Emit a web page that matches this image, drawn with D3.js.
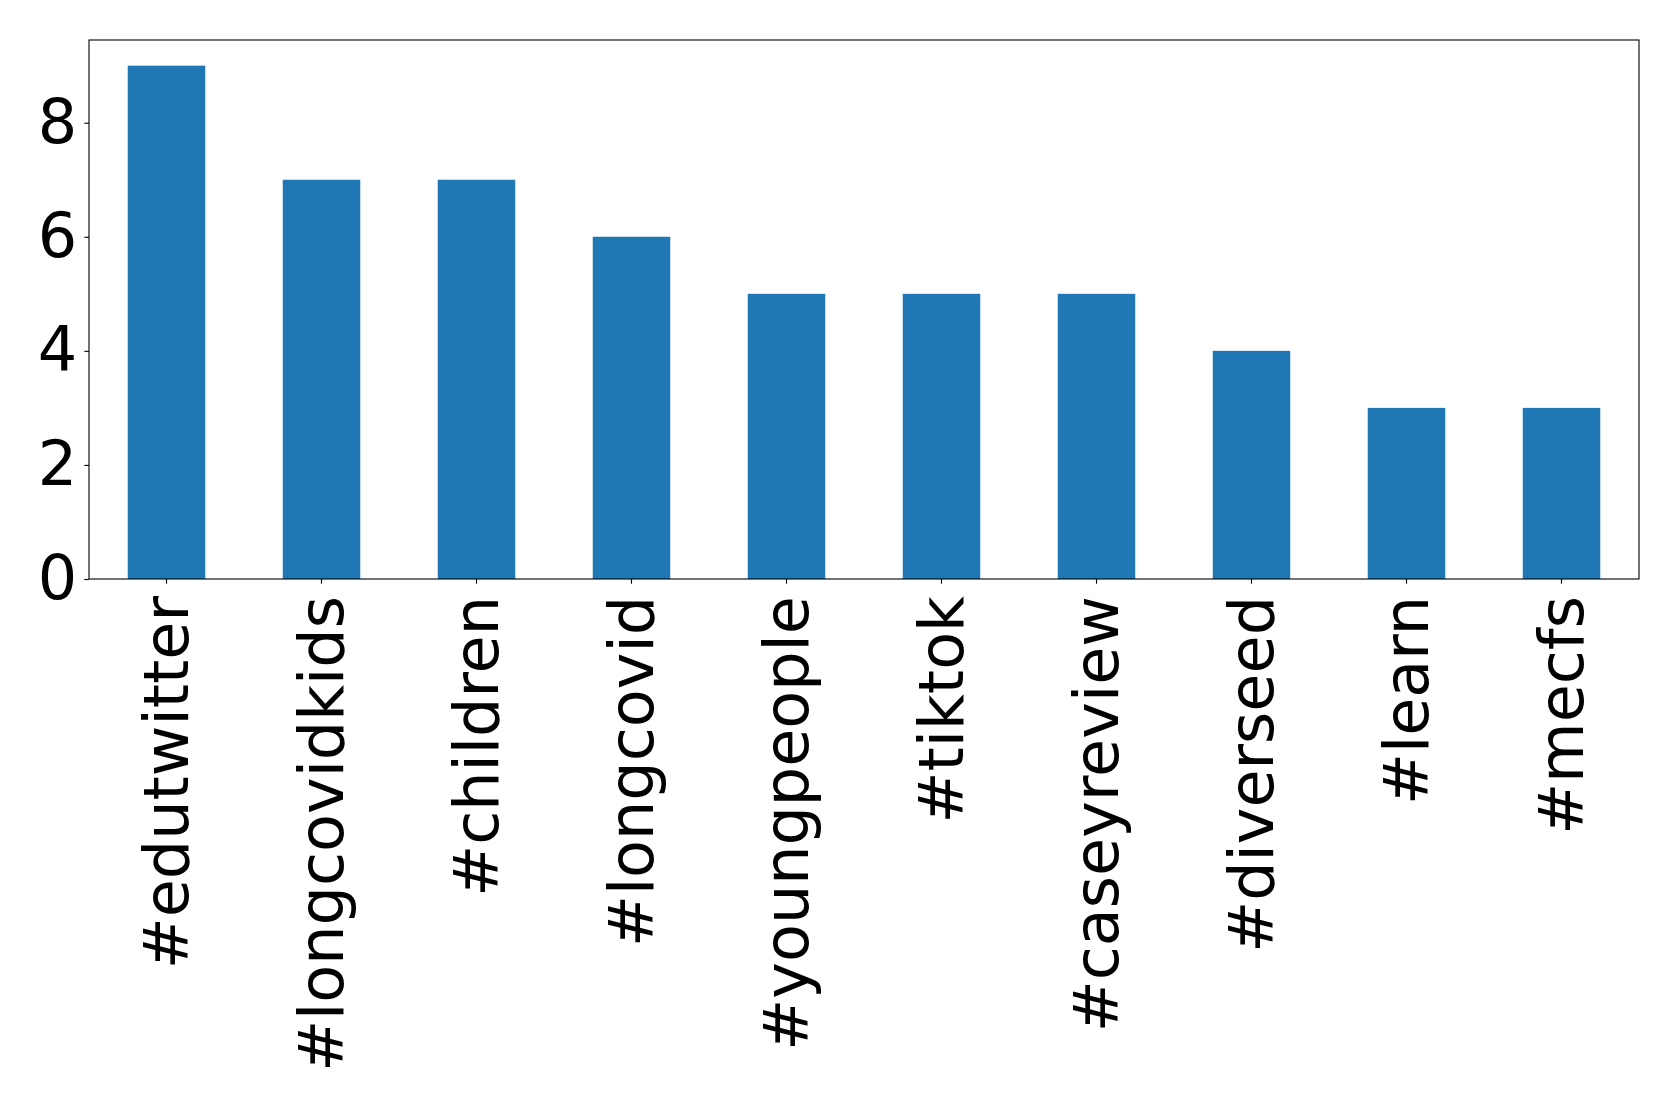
<!DOCTYPE html>
<html><head><meta charset="utf-8">
<script src="https://cdn.jsdelivr.net/npm/d3@7"></script>
<style>body{margin:0;background:#fff}svg{display:block}text{font-family:"DejaVu Sans",sans-serif}</style>
</head><body>
<script>
const categories = ["#edutwitter","#longcovidkids","#children","#longcovid","#youngpeople","#tiktok","#caseyreview","#diverseed","#learn","#mecfs"];
const counts = [9,7,7,6,5,5,5,4,3,3];
const yTicks = [0,2,4,6,8];

const W = 1679, H = 1108;
const m = {left:89, top:40, right:1639, bottom:579};
const svg = d3.select("body").append("svg").attr("width",W).attr("height",H);

const x = d3.scaleBand().domain(categories).range([m.left, m.right]).paddingInner(0.5).paddingOuter(0.25);
const y = d3.scaleLinear().domain([0, 9.45]).range([m.bottom, m.top]);

svg.append("g").selectAll("rect").data(categories).join("rect")
  .attr("x", d=>x(d)).attr("width", x.bandwidth())
  .attr("y", (d,i)=>y(counts[i])).attr("height", (d,i)=>y(0)-y(counts[i]))
  .attr("fill","#1f77b4");

const fs = 62;
const yAxis = svg.append("g").attr("transform",`translate(${m.left},0)`)
  .call(d3.axisLeft(y).tickValues(yTicks).tickSize(4.7).tickPadding(7).tickFormat(d3.format("d")));
yAxis.select(".domain").remove();
yAxis.selectAll("text").attr("font-size",fs).attr("font-family","DejaVu Sans").attr("fill","#000");
yAxis.selectAll("line").attr("stroke","#000").attr("stroke-width",1.1);

const xAxis = svg.append("g").attr("transform",`translate(0,${m.bottom})`)
  .call(d3.axisBottom(x).tickSize(4.7).tickPadding(0));
xAxis.select(".domain").remove();
xAxis.selectAll("line").attr("stroke","#000").attr("stroke-width",1.1);
xAxis.selectAll("text").attr("font-size",fs).attr("font-family","DejaVu Sans").attr("fill","#000")
  .attr("transform","rotate(-90)").attr("text-anchor","end")
  .attr("x",-17).attr("y",0).attr("dy","0.34em");

svg.append("rect").attr("x",m.left).attr("y",m.top).attr("width",m.right-m.left).attr("height",m.bottom-m.top)
  .attr("fill","none").attr("stroke","#000").attr("stroke-width",1.1);
</script>
</body></html>
